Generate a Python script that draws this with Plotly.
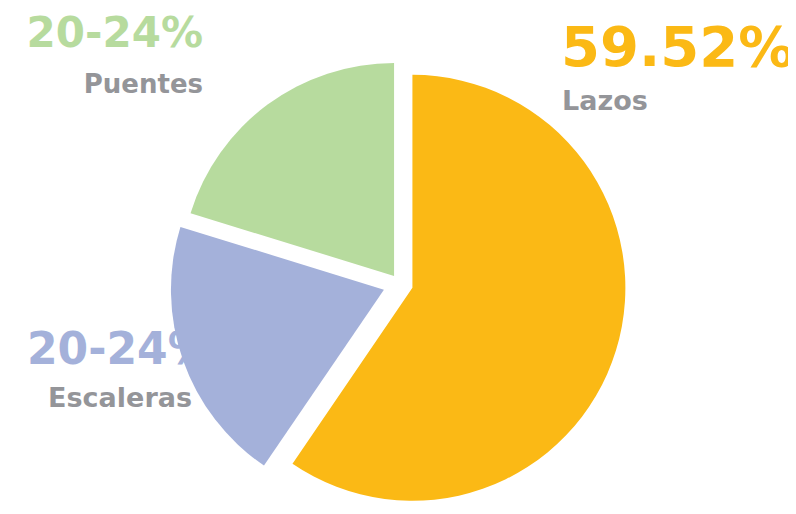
import plotly.graph_objects as go

# Data
categories = ["Lazos", "Escaleras", "Puentes"]
values = [59.52, 20.24, 20.24]
pct_labels = ["59.52%", "20-24%", "20-24%"]
colors = ["#FBB915", "#A4B1DA", "#B7DB9E"]
pulls = [0.061, 0.080, 0.047]

# The page body has an 8px margin; size the figure so it fills the window
OFF = 8
W, H = 796 - OFF, 514 - OFF
GRAY = "#949599"
FONT = "DejaVu Sans"

fig = go.Figure()

# Labels as text traces (drawn beneath the pie, like the reference)
label_specs = [
    # Lazos
    (561, 52, "middle right", 56, pct_labels[0], colors[0]),
    (562, 103, "middle right", 27, categories[0], GRAY),
    # Puentes
    (203, 36.5, "middle left", 42, pct_labels[2], colors[2]),
    (203, 86.5, "middle left", 26, categories[2], GRAY),
    # Escaleras
    (27, 353, "middle right", 44, pct_labels[1], colors[1]),
    (192, 400, "middle left", 27, categories[1], GRAY),
]
for x, y, pos, size, txt, col in label_specs:
    fig.add_trace(go.Scatter(
        x=[x], y=[y], mode="text", text=[txt], textposition=pos,
        textfont=dict(family=FONT, size=size, color=col, weight="bold"),
        hoverinfo="skip", showlegend=False,
    ))

cx, cy = 400 - OFF, 284 - OFF  # pie centre in figure pixels
half = 230
fig.add_trace(go.Pie(
    labels=categories, values=values, sort=False, direction="clockwise",
    rotation=0, pull=pulls, textinfo="none", hoverinfo="label+percent",
    marker=dict(colors=colors, line=dict(width=0)),
    domain=dict(x=[(cx - half) / W, (cx + half) / W],
                y=[(H - cy - half) / H, (H - cy + half) / H]),
    showlegend=False,
))

fig.update_layout(
    width=W, height=H, autosize=False,
    margin=dict(l=0, r=0, t=0, b=0),
    paper_bgcolor="white", plot_bgcolor="white",
    xaxis=dict(range=[OFF, 796], visible=False, fixedrange=True),
    yaxis=dict(range=[514, OFF], visible=False, fixedrange=True),
    showlegend=False,
)

fig.write_html("out.html")
